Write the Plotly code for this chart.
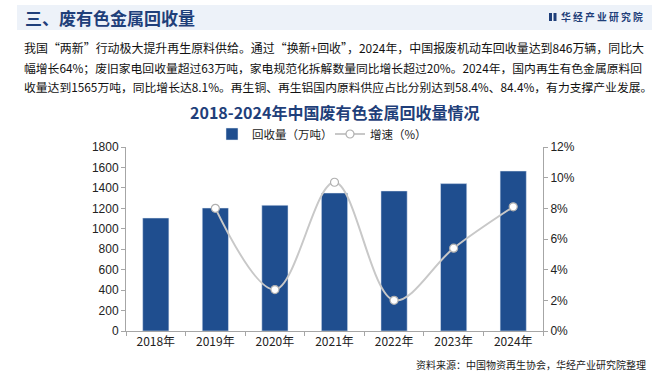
import plotly.graph_objects as go

years = ["2018年", "2019年", "2020年", "2021年", "2022年", "2023年", "2024年"]
recovery = [1105, 1203, 1230, 1350, 1370, 1442, 1565]
growth = [None, 8.0, 2.7, 9.7, 2.0, 5.4, 8.1]
left_ticks = [0, 200, 400, 600, 800, 1000, 1200, 1400, 1600, 1800]
right_ticks = [0, 2, 4, 6, 8, 10, 12]
right_labels = [f"{v}%" for v in right_ticks]

W, H = 669, 372
L, R, T, B = 126, 126, 147, 41
PW, PH = W - L - R, H - T - B

def px(x):
    return (x - L) / PW

def py(y):
    return (H - B - y) / PH

CJK = "Noto Sans CJK SC"
NUM = "Liberation Sans, Arial"
DARK = "#1f3f7a"
BAR = "#1f4e8f"

fig = go.Figure()
fig.add_trace(go.Bar(
    x=years, y=recovery, name="回收量（万吨）", marker_color=BAR, width=0.44,
    yaxis="y",
))
fig.add_trace(go.Scatter(
    x=years, y=growth, name="增速（%）", yaxis="y2", mode="lines+markers",
    line=dict(color="#c8c8c8", width=2, shape="spline", smoothing=1.0),
    marker=dict(size=8, color="white", line=dict(color="#b0b0b0", width=1.2)),
    connectgaps=False,
))

shapes = [
    dict(type="rect", xref="paper", yref="paper", x0=px(17), x1=px(652), y0=py(30), y1=py(5),
         fillcolor="#edf2f9", line=dict(width=0), layer="below"),
    dict(type="rect", xref="paper", yref="paper", x0=px(549), x1=px(552), y0=py(21), y1=py(13),
         fillcolor=DARK, line=dict(width=0)),
    dict(type="rect", xref="paper", yref="paper", x0=px(553.5), x1=px(556.5), y0=py(21), y1=py(13),
         fillcolor=DARK, line=dict(width=0)),
]

para = [
    "我国“两新”行动极大提升再生原料供给。通过“换新+回收”，2024年，中国报废机动车回收量达到846万辆，同比大",
    "幅增长64%；废旧家电回收量超过63万吨，家电规范化拆解数量同比增长超过20%。2024年，国内再生有色金属原料回",
    "收量达到1565万吨，同比增长达8.1%。再生铜、再生铝国内原料供应占比分别达到58.4%、84.4%，有力支撑产业发展。",
]
para_y = [47, 67, 86]
para_size = [11.95, 11.8, 11.8]

annotations = [
    dict(text="<b>三、废有色金属回收量</b>", x=px(23), y=py(17), xref="paper", yref="paper",
         xanchor="left", yanchor="middle", showarrow=False,
         font=dict(family=CJK, size=17, color=DARK)),
    dict(text="<b>华 经 产 业 研 究 院</b>", x=px(559), y=py(17), xref="paper", yref="paper",
         xanchor="left", yanchor="middle", showarrow=False,
         font=dict(family=CJK, size=9.8, color=DARK)),
    dict(text="<b>2018-2024年中国废有色金属回收量情况</b>", x=px(334), y=py(112), xref="paper", yref="paper",
         xanchor="center", yanchor="middle", showarrow=False,
         font=dict(family=CJK, size=16, color=DARK)),
    dict(text="资料来源：中国物资再生协会，华经产业研究院整理", x=px(648), y=py(364), xref="paper", yref="paper",
         xanchor="right", yanchor="middle", showarrow=False,
         font=dict(family=CJK, size=10, color="#222222")),
]
for t, yy, sz in zip(para, para_y, para_size):
    annotations.append(dict(text=t, x=px(22), y=py(yy), xref="paper", yref="paper",
                            xanchor="left", yanchor="middle", showarrow=False,
                            font=dict(family=CJK, size=sz, color="#111111")))

axis_line = "#a6a6a6"
fig.update_layout(
    width=W, height=H,
    margin=dict(l=L, r=R, t=T, b=B, pad=0),
    plot_bgcolor="white", paper_bgcolor="white",
    showlegend=True,
    legend=dict(orientation="h", x=px(212), y=py(134), xanchor="left", yanchor="middle",
                font=dict(family=CJK, size=11.5, color="#222222"), bgcolor="rgba(0,0,0,0)",
                tracegroupgap=0, entrywidth=73),
    xaxis=dict(showgrid=False, showline=True, linecolor=axis_line, linewidth=1,
               ticks="outside", tickson="boundaries", ticklen=4, tickcolor=axis_line,
               tickfont=dict(family=CJK, size=12, color="#222222")),
    yaxis=dict(range=[0, 1800], tickvals=left_ticks, showgrid=False, zeroline=False,
               showline=True, linecolor=axis_line, linewidth=1, ticks="outside", ticklen=4,
               tickcolor=axis_line, tickfont=dict(family=NUM, size=12, color="#222222")),
    yaxis2=dict(range=[0, 12], tickvals=right_ticks, ticktext=right_labels, overlaying="y", side="right",
                showgrid=False, zeroline=False, showline=True, linecolor=axis_line, linewidth=1,
                ticks="outside", ticklen=4, tickcolor=axis_line,
                tickfont=dict(family=NUM, size=12, color="#222222")),
    shapes=shapes,
    annotations=annotations,
)

fig.write_html("out.html", config={"displayModeBar": False},
               post_script="document.body.style.margin='0px';document.body.style.overflow='hidden';")
